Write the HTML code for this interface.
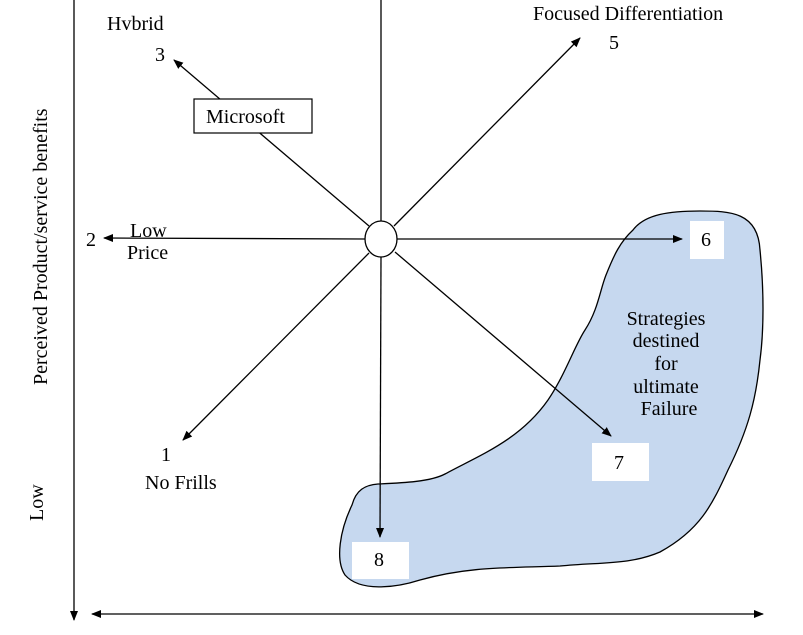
<!DOCTYPE html>
<html><head><style>
body{margin:0;background:#fff;}
svg text{font-family:"Liberation Serif",serif;font-size:20px;fill:#000;}
</style></head><body>
<svg width="803" height="630" viewBox="0 0 803 630" xmlns="http://www.w3.org/2000/svg">
<defs>
<marker id="a" viewBox="0 0 10 10" refX="9" refY="5" markerWidth="10" markerHeight="10" orient="auto-start-reverse" markerUnits="userSpaceOnUse"><path d="M0,1 L10,5 L0,9 z" fill="#000"/></marker>
</defs>
<path d="M633,230 C645,214 670,211 700,211 C730,211 758,212 760,250 C764,290 764,330 760,360 C756,400 748,430 728,470 C712,505 700,530 660,552 C630,565 600,562 560,566 C510,568 470,566 420,580 C395,588 360,592 345,575 C335,560 340,530 352,505 C356,490 365,485 378,484 C400,483 430,482 445,474 C480,455 520,440 548,400 C565,375 575,345 585,330 C598,310 600,290 606,275 C614,255 620,242 633,230 Z" fill="#c6d8ef" stroke="#000" stroke-width="1.3"/>
<line x1="74" y1="0" x2="74" y2="620" stroke="#000" stroke-width="1.3" marker-end="url(#a)"/>
<line x1="92" y1="614" x2="763" y2="614" stroke="#000" stroke-width="1.3" marker-start="url(#a)" marker-end="url(#a)"/>
<g stroke="#000" stroke-width="1.3">
<line x1="381" y1="0" x2="381" y2="221"/>
<line x1="369" y1="226" x2="174" y2="60" marker-end="url(#a)"/>
<line x1="394" y1="226" x2="580" y2="38" marker-end="url(#a)"/>
<line x1="365" y1="239" x2="104" y2="238" marker-end="url(#a)"/>
<line x1="397" y1="239" x2="682" y2="239" marker-end="url(#a)"/>
<line x1="369" y1="253" x2="183" y2="440" marker-end="url(#a)"/>
<line x1="395" y1="252" x2="611" y2="436" marker-end="url(#a)"/>
<line x1="381" y1="257" x2="380" y2="537" marker-end="url(#a)"/>
</g>
<ellipse cx="381" cy="239" rx="16" ry="18" fill="#fff" stroke="#000" stroke-width="1.3"/>
<rect x="194" y="99" width="118" height="34" fill="#fff" stroke="#000" stroke-width="1.2"/>
<text x="206" y="123">Microsoft</text>
<rect x="690" y="221" width="34" height="38" fill="#fff"/>
<text x="701" y="246">6</text>
<rect x="592" y="443" width="57" height="38" fill="#fff"/>
<text x="614" y="469">7</text>
<rect x="352" y="542" width="57" height="37" fill="#fff"/>
<text x="374" y="566">8</text>
<text x="107" y="30">Hvbrid</text>
<text x="155" y="61">3</text>
<text x="533" y="20">Focused Differentiation</text>
<text x="609" y="49">5</text>
<text x="86" y="246">2</text>
<text x="130" y="237">Low</text>
<text x="127" y="259">Price</text>
<text x="161" y="461">1</text>
<text x="145" y="489">No Frills</text>
<g text-anchor="middle">
<text x="666" y="325">Strategies</text>
<text x="666" y="347">destined</text>
<text x="666" y="370">for</text>
<text x="666" y="393">ultimate</text>
<text x="669" y="415">Failure</text>
</g>
<text transform="translate(47,385) rotate(-90)">Perceived Product/service benefits</text>
<text transform="translate(43,521) rotate(-90)">Low</text>
</svg>
</body></html>
